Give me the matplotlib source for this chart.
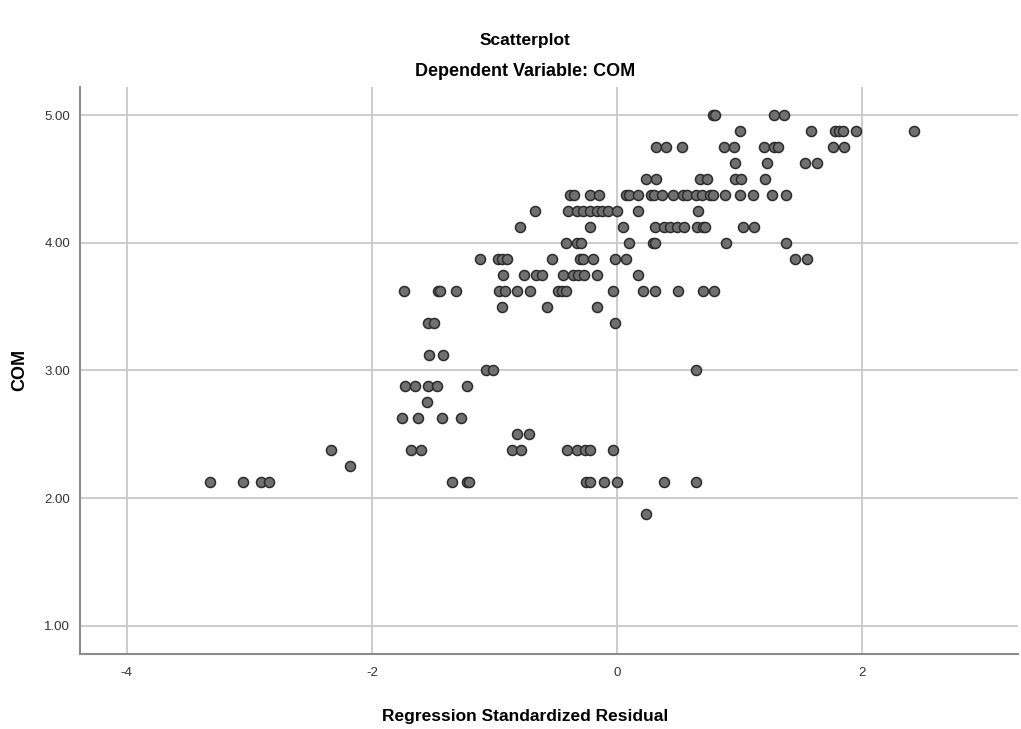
import matplotlib.pyplot as plt

plt.rcParams['font.family'] = ['Liberation Sans', 'DejaVu Sans']

com_levels = [5.0, 4.875, 4.75, 4.625, 4.5, 4.375, 4.25, 4.125, 4.0, 3.875, 3.75,
              3.625, 3.5, 3.375, 3.125, 3.0, 2.875, 2.75, 2.625, 2.5, 2.375, 2.25,
              2.125, 1.875]
res_5_000 = [0.78, 0.80, 1.28, 1.36]
res_4_875 = [1.00, 1.58, 1.78, 1.81, 1.84, 1.95, 2.42]
res_4_750 = [0.32, 0.40, 0.53, 0.87, 0.95, 1.20, 1.28, 1.31, 1.76, 1.85]
res_4_625 = [0.96, 1.22, 1.53, 1.63]
res_4_500 = [0.24, 0.32, 0.68, 0.73, 0.96, 1.01, 1.21]
res_4_375 = [-0.38, -0.35, -0.22, -0.15, 0.07, 0.10, 0.17, 0.28, 0.30, 0.37, 0.46,
             0.54, 0.57, 0.64, 0.69, 0.76, 0.78, 0.88, 1.00, 1.11, 1.26, 1.38]
res_4_250 = [-0.67, -0.40, -0.33, -0.28, -0.22, -0.16, -0.12, -0.07, 0.00, 0.17, 0.66]
res_4_125 = [-0.79, -0.22, 0.05, 0.31, 0.38, 0.43, 0.49, 0.55, 0.65, 0.70, 0.72, 1.03, 1.12]
res_4_000 = [-0.42, -0.33, -0.29, 0.10, 0.29, 0.31, 0.89, 1.38]
res_3_875 = [-1.12, -0.97, -0.94, -0.90, -0.53, -0.30, -0.28, -0.20, -0.02, 0.07, 1.45, 1.55]
res_3_750 = [-0.93, -0.76, -0.66, -0.61, -0.44, -0.36, -0.32, -0.27, -0.16, 0.17]
res_3_625 = [-1.74, -1.46, -1.44, -1.31, -0.96, -0.91, -0.82, -0.71, -0.48, -0.45, -0.42,
             -0.03, 0.21, 0.31, 0.50, 0.70, 0.79]
res_3_500 = [-0.94, -0.57, -0.16]
res_3_375 = [-1.54, -1.49, -0.02]
res_3_125 = [-1.53, -1.42]
res_3_000 = [-1.07, -1.01, 0.64]
res_2_875 = [-1.73, -1.65, -1.54, -1.47, -1.22]
res_2_750 = [-1.55]
res_2_625 = [-1.75, -1.62, -1.43, -1.27]
res_2_500 = [-0.82, -0.72]
res_2_375 = [-2.33, -1.68, -1.60, -0.86, -0.78, -0.41, -0.33, -0.26, -0.22, -0.03]
res_2_250 = [-2.18]
res_2_125 = [-3.32, -3.05, -2.90, -2.84, -1.35, -1.22, -1.21, -0.25, -0.22, -0.11, 0.00,
             0.38, 0.64]
res_1_875 = [0.24]

res_by_level = [res_5_000, res_4_875, res_4_750, res_4_625, res_4_500, res_4_375,
                res_4_250, res_4_125, res_4_000, res_3_875, res_3_750, res_3_625,
                res_3_500, res_3_375, res_3_125, res_3_000, res_2_875, res_2_750,
                res_2_625, res_2_500, res_2_375, res_2_250, res_2_125, res_1_875]

x_ticks = [-4, -2, 0, 2]
y_ticks = [1.0, 2.0, 3.0, 4.0, 5.0]

residual = []
com = []
for level, vals in zip(com_levels, res_by_level):
    residual += vals
    com += [level] * len(vals)

fig = plt.figure(figsize=(10.21, 7.29), dpi=100)
ax = fig.add_axes([80 / 1021, 1 - 654 / 729, 938 / 1021, 567 / 729])

ax.scatter(residual, com, s=52, facecolor='#707070', edgecolor='#2b2b2b',
           linewidth=1.1, zorder=3)

ax.set_xlim(-4.38, 3.27)
ax.set_ylim(0.78, 5.22)
ax.set_xticks(x_ticks)
ax.set_yticks(y_ticks)
ax.set_xticklabels([str(t) for t in x_ticks])
ax.set_yticklabels(['%.2f' % t for t in y_ticks])
ax.grid(True, color='#c8c8c8', linewidth=1.3)
ax.set_axisbelow(True)
ax.tick_params(length=0, labelsize=9.5, colors='#333333', pad=7)
ax.tick_params(axis='x', pad=9)

for side in ['top', 'right']:
    ax.spines[side].set_visible(False)
for side in ['left', 'bottom']:
    ax.spines[side].set_color('#8c8c8c')
    ax.spines[side].set_linewidth(1.5)

# titles and axis labels placed like SPSS output
fig.text(525 / 1021, 1 - 40 / 729, 'Scatterplot', ha='center', va='center',
         fontsize=12.5, fontweight='bold')
fig.text(525 / 1021, 1 - 72 / 729, 'Dependent Variable: COM', ha='center', va='center',
         fontsize=13, fontweight='bold')
fig.text(525 / 1021, 1 - 717 / 729, 'Regression Standardized Residual', ha='center',
         va='center', fontsize=12.5, fontweight='bold')
fig.text(20 / 1021, 1 - 370 / 729, 'COM', ha='center', va='center', rotation=90,
         fontsize=13, fontweight='bold')

fig.savefig('out.png', dpi=100, facecolor='white')
